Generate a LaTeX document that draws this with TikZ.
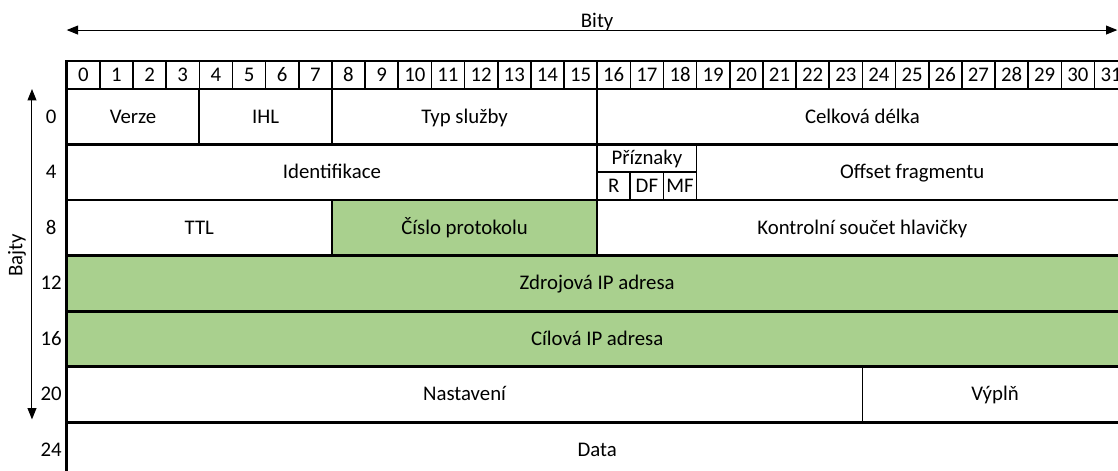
\documentclass[tikz,border=0pt]{standalone}
\usepackage{fontspec}
\setmainfont{Carlito}
\usetikzlibrary{arrows.meta,positioning}

\definecolor{fieldgreen}{RGB}{169,208,142}

\begin{document}
\begin{tikzpicture}[
    x=24.86pt, y=-41.63pt,
    font=\fontsize{15.6}{18}\selectfont,
    every node/.style={text height=9.8pt, text depth=0pt},
    bitcell/.style={rectangle, draw, line width=1.2pt, inner sep=0pt, outer sep=0pt, minimum width=24.86pt, minimum height=21.02pt},
    field/.style={rectangle, draw, line width=1.3pt, inner sep=0pt, outer sep=0pt, minimum height=41.63pt},
    span/.style={minimum width=#1*24.86pt},
    flag/.style={field, minimum height=20.815pt, minimum width=24.86pt},
    ipfield/.style={field, fill=fieldgreen},
    border/.style={line width=2.1pt, line cap=rect},
    dimarrow/.style={{Triangle[length=8.5pt,width=6.7pt]}-{Triangle[length=8.5pt,width=6.7pt]}, line width=0.75pt}
]

\useasboundingbox (-2.012,-1.604) rectangle (31.71,6.865);
\clip (-2.012,-1.604) rectangle (31.71,6.865);

% Bit numbers
\foreach \i in {0,...,31}
    \node[bitcell] (b\i) at (\i+0.5,-0.2525) {\i};

% Row 0
\node[field, span=4] (verze) at (2,0.5) {Verze};
\node[field, span=4] (ihl) at (6,0.5) {IHL};
\node[field, span=8] (tos) at (12,0.5) {Typ služby};
\node[field, span=16] (delka) at (24,0.5) {Celková délka};

% Row 4
\node[field, span=16] (ident) at (8,1.5) {Identifikace};
\node[flag, span=3] (priznaky) at (17.5,1.25) {Příznaky};
\node[flag] (fr) at (16.5,1.75) {R};
\node[flag] (fdf) at (17.5,1.75) {DF};
\node[flag] (fmf) at (18.5,1.75) {MF};
\node[field, span=13] (offset) at (25.5,1.5) {Offset fragmentu};

% Row 8
\node[field, span=8] (ttl) at (4,2.5) {TTL};
\node[ipfield, span=8] (proto) at (12,2.5) {Číslo protokolu};
\node[field, span=16] (checksum) at (24,2.5) {Kontrolní součet hlavičky};

% Rows 12 and 16
\node[ipfield, span=32] (src) at (16,3.5) {Zdrojová IP adresa};
\node[ipfield, span=32] (dst) at (16,4.5) {Cílová IP adresa};

% Row 20
\node[field, span=24] (opts) at (12,5.5) {Nastavení};
\node[field, span=8] (pad) at (28,5.5) {Výplň};

% Data
\node[field, span=32] (data) at (16,6.5) {Data};

% Heavy borders
\draw[border] (b0.north west) -- (b31.north east);
\draw[border] (b0.north west) -- (data.south west);
\draw[border] (b31.north east) -- (data.south east);
\draw[line width=1.7pt] (verze.north west) -- (delka.north east);
\draw[border] (verze.south west) -- (delka.south east);
\draw[border] (ident.south west) -- (offset.south east);
\draw[border] (ttl.south west) -- (checksum.south east);
\draw[border] (src.south west) -- (src.south east);
\draw[border] (dst.south west) -- (dst.south east);
\draw[border] (opts.south west) -- (pad.south east);

% Byte offsets
\foreach \r/\v in {0/0,1/4,2/8,3/12,4/16,5/20,6/24}
    \node (o\v) at (-0.47,\r+0.5) {\v};

% Axes
\coordinate (bitsL) at (0,-1.063);
\coordinate (bitsR) at (31.69,-1.063);
\draw[dimarrow] (bitsL) -- (bitsR);
\node[anchor=base] (bity) at (16,-1.117) {Bity};

\coordinate (bytesT) at (-1.047,0);
\coordinate (bytesB) at (-1.047,5.95);
\draw[dimarrow] (bytesT) -- (bytesB);
\node[rotate=90, text height=, text depth=] (bajty) at (-1.5,3) {Bajty};

\end{tikzpicture}
\end{document}
